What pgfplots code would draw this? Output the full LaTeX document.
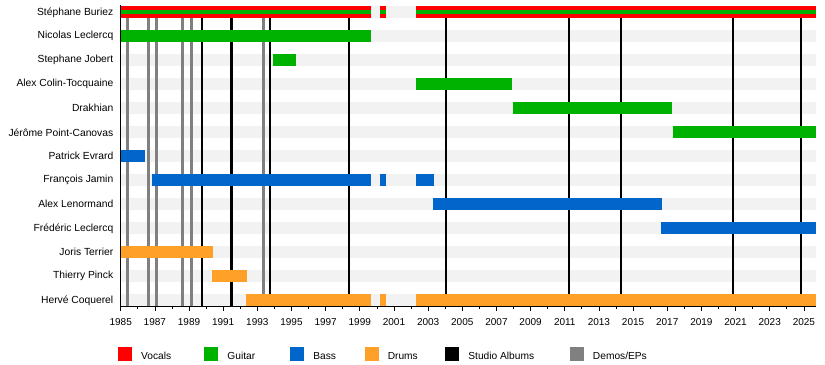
\documentclass[border=0pt]{standalone}
\usepackage{pgfplots}
\pgfplotsset{compat=1.18}
\usepackage{fontspec}
\setmainfont{Liberation Sans}
\definecolor{voc}{RGB}{255,0,0}
\definecolor{gtr}{RGB}{0,178,0}
\definecolor{bss}{RGB}{0,102,204}
\definecolor{drm}{RGB}{255,160,40}
\definecolor{demo}{RGB}{128,128,128}
\definecolor{stripe}{RGB}{242,242,242}
\newcommand{\seg}[4]{\addplot[#1, line width=11.7bp, line cap=butt, forget plot] coordinates {(#2,#4) (#3,#4)};}
\newcommand{\album}[2]{\addplot[#1, forget plot] coordinates {(#2,-0.27) (#2,12)};}
\begin{document}
\fontsize{10bp}{12bp}\selectfont
\begin{tikzpicture}
\useasboundingbox (-120.7bp,-58.7bp) rectangle (704.3bp,306.3bp);
\begin{axis}[
  scale only axis, width=695.3bp, height=301bp,
  xmin=1985, xmax=2025.71, ymin=-0.27, ymax=12.27,
  axis x line=bottom, axis y line=left,
  axis line style={-, black, line width=0.8bp},
  xtick={1985,1987,...,2025},
  minor xtick={1986,1988,...,2024},
  tick align=outside,
  xtick style={black, line width=0.7bp},
  major tick length=4.5bp, minor tick length=2.5bp,
  xticklabel style={yshift=-4bp, /pgf/number format/1000 sep={}, /pgf/number format/assume math mode=true, font=\fontsize{10bp}{12bp}\selectfont},
  ytick={0,...,12},
  y tick style={draw=none},
  yticklabels={Hervé Coquerel,Thierry Pinck,Joris Terrier,Frédéric Leclercq,Alex Lenormand,François Jamin,Patrick Evrard,Jérôme Point-Canovas,Drakhian,Alex Colin-Tocquaine,Stephane Jobert,Nicolas Leclercq,Stéphane Buriez},
  yticklabel style={xshift=0.6bp, yshift=-0.5bp, font=\fontsize{10.3bp}{12bp}\selectfont},
  clip=false,
  axis on top,
  legend columns=6,
  legend image code/.code={\fill[#1] (0bp,-4.5bp) rectangle (13bp,8.5bp);},
  legend style={at={(axis description cs:0,0)}, anchor=west, xshift=-2.4bp, yshift=-47.2bp,
    draw=none, fill=none, inner sep=0pt, outer sep=0pt,
    nodes={inner sep=0pt, text depth=0pt},
    cells={anchor=west},
    font=\fontsize{10.2bp}{12bp}\selectfont,
    /tikz/every odd column/.style={column sep=9.5bp},
    /tikz/every even column/.style={column sep=0bp}},
]
% background stripes
\pgfplotsinvokeforeach{0,...,12}{\addplot[stripe, line width=11.7bp, forget plot] coordinates {(1985,#1) (2025.71,#1)};}
% demos / EPs
\album{demo, line width=3bp}{1985.37}
\album{demo, line width=3bp}{1986.62}
\album{demo, line width=3bp}{1987.08}
\album{demo, line width=3bp}{1988.61}
\album{demo, line width=3bp}{1989.17}
\album{demo, line width=3bp}{1993.35}
% studio albums
\album{black, line width=2.3bp}{1989.78}
\album{black, line width=2.3bp}{1991.48}
\album{black, line width=2.3bp}{1993.74}
\album{black, line width=2.3bp}{1998.38}
\album{black, line width=2.3bp}{2004.06}
\album{black, line width=2.3bp}{2011.26}
\album{black, line width=2.3bp}{2014.31}
\album{black, line width=2.3bp}{2020.87}
\album{black, line width=2.3bp}{2024.85}
% Stéphane Buriez (vocals + guitar)
\seg{voc}{1985}{1999.64}{12}
\seg{voc}{2000.18}{2000.52}{12}
\seg{voc}{2002.29}{2025.71}{12}
\addplot[gtr, line width=4.5bp, forget plot] coordinates {(1985,12) (1999.64,12)};
\addplot[gtr, line width=4.5bp, forget plot] coordinates {(2000.18,12) (2000.52,12)};
\addplot[gtr, line width=4.5bp, forget plot] coordinates {(2002.29,12) (2025.71,12)};
% guitar
\seg{gtr}{1985}{1999.64}{11}
\seg{gtr}{1993.92}{1995.25}{10}
\seg{gtr}{2002.29}{2007.91}{9}
\seg{gtr}{2007.97}{2017.28}{8}
\seg{gtr}{2017.34}{2025.71}{7}
% bass
\seg{bss}{1985}{1986.42}{6}
\seg{bss}{1986.83}{1999.64}{5}
\seg{bss}{2000.18}{2000.52}{5}
\seg{bss}{2002.29}{2003.34}{5}
\seg{bss}{2003.28}{2016.69}{4}
\seg{bss}{2016.63}{2025.71}{3}
% drums
\seg{drm}{1985}{1990.40}{2}
\seg{drm}{1990.35}{1992.39}{1}
\seg{drm}{1992.34}{1999.64}{0}
\seg{drm}{2000.18}{2000.52}{0}
\seg{drm}{2002.29}{2025.71}{0}
% legend
\addlegendimage{voc}\addlegendentry{\makebox[63.3bp][l]{Vocals}}
\addlegendimage{gtr}\addlegendentry{\makebox[63bp][l]{Guitar}}
\addlegendimage{bss}\addlegendentry{\makebox[51.6bp][l]{Bass}}
\addlegendimage{drm}\addlegendentry{\makebox[57.7bp][l]{Drums}}
\addlegendimage{black}\addlegendentry{\makebox[101.7bp][l]{Studio Albums}}
\addlegendimage{demo}\addlegendentry{\makebox[60bp][l]{Demos/EPs}}
\end{axis}
\end{tikzpicture}
\end{document}
